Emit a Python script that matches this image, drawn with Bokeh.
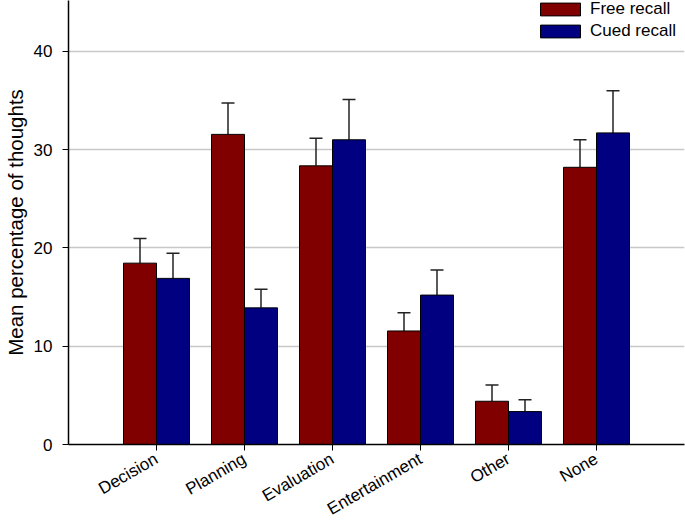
import math
from bokeh.plotting import figure
from bokeh.models import (Range1d, FixedTicker, ColumnDataSource, Whisker, TeeHead,
                          Legend, LegendItem)
from bokeh.embed import file_html
from bokeh.resources import INLINE

categories = ["Decision", "Planning", "Evaluation", "Entertainment", "Other", "None"]
free_mean = [18.45, 31.55, 28.35, 11.55, 4.4, 28.2]
free_se = [2.5, 3.2, 2.8, 1.85, 1.65, 2.8]
cued_mean = [16.9, 13.9, 31.0, 15.2, 3.35, 31.7]
cued_se = [2.55, 1.9, 4.1, 2.55, 1.2, 4.3]

positions = list(range(1, len(categories) + 1))
bar_w = 0.375

free_x = [p - bar_w / 2 for p in positions]
cued_x = [p + bar_w / 2 for p in positions]

free_src = ColumnDataSource(dict(x=free_x, top=free_mean,
                                 upper=[m + s for m, s in zip(free_mean, free_se)]))
cued_src = ColumnDataSource(dict(x=cued_x, top=cued_mean,
                                 upper=[m + s for m, s in zip(cued_mean, cued_se)]))

FONT = "Liberation Sans"

p = figure(frame_width=616, frame_height=444, output_backend="svg", toolbar_location=None,
           x_range=Range1d(0, 7), y_range=Range1d(0, 45.17),
           min_border_left=68, min_border_right=1, min_border_top=0, min_border_bottom=76)
p.styles = {"position": "absolute", "left": "0px", "top": "0px"}
p.outline_line_color = None
p.background_fill_color = "white"

r_free = p.vbar(x="x", top="top", width=bar_w, bottom=0, source=free_src,
                fill_color="#800000", line_color="black", line_width=1)
r_cued = p.vbar(x="x", top="top", width=bar_w, bottom=0, source=cued_src,
                fill_color="#000080", line_color="black", line_width=1)

for src in (free_src, cued_src):
    w = Whisker(base="x", lower="top", upper="upper", source=src,
                line_color="#222222", line_width=1.5,
                upper_head=TeeHead(size=13, line_color="#222222", line_width=1.5),
                lower_head=None)
    p.add_layout(w)

# axes
p.xaxis.ticker = FixedTicker(ticks=positions)
p.xaxis.major_label_overrides = {pos: c for pos, c in zip(positions, categories)}
p.xaxis.major_label_orientation = math.pi / 6
p.xaxis.minor_tick_line_color = None
p.xaxis.major_tick_in = 0
p.xaxis.major_tick_out = 6
p.xaxis.axis_line_color = "black"
p.xaxis.axis_line_width = 1.5
p.xaxis.major_label_text_font = FONT
p.xaxis.major_label_text_font_size = "17px"
p.xaxis.major_label_text_color = "black"
p.xaxis.major_label_standoff = 7

p.yaxis.ticker = FixedTicker(ticks=[0, 10, 20, 30, 40])
p.yaxis.minor_tick_line_color = None
p.yaxis.major_tick_in = 0
p.yaxis.major_tick_out = 6
p.yaxis.axis_line_color = "black"
p.yaxis.axis_line_width = 1.5
p.yaxis.major_label_text_font = FONT
p.yaxis.major_label_text_font_size = "17px"
p.yaxis.major_label_text_color = "black"
p.yaxis.major_label_standoff = 10
p.yaxis.axis_label = "Mean percentage of thoughts"
p.yaxis.axis_label_text_font = FONT
p.yaxis.axis_label_text_font_size = "20.5px"
p.yaxis.axis_label_text_font_style = "normal"
p.yaxis.axis_label_text_color = "black"
p.yaxis.axis_label_standoff = 4

p.xgrid.grid_line_color = None
p.ygrid.grid_line_color = "#c8c8c8"
p.ygrid.grid_line_width = 1.5

legend = Legend(items=[LegendItem(label="Free recall", renderers=[r_free]),
                       LegendItem(label="Cued recall", renderers=[r_cued])],
                location=(467, 403), orientation="vertical")
legend.glyph_width = 50
legend.glyph_height = 16
legend.label_text_font = FONT
legend.label_text_font_size = "17px"
legend.label_text_color = "black"
legend.label_standoff = 5
legend.spacing = 2
legend.padding = 0
legend.margin = 0
legend.border_line_color = None
legend.background_fill_alpha = 0
p.add_layout(legend)

open("out.html", "w").write(file_html(p, INLINE))
